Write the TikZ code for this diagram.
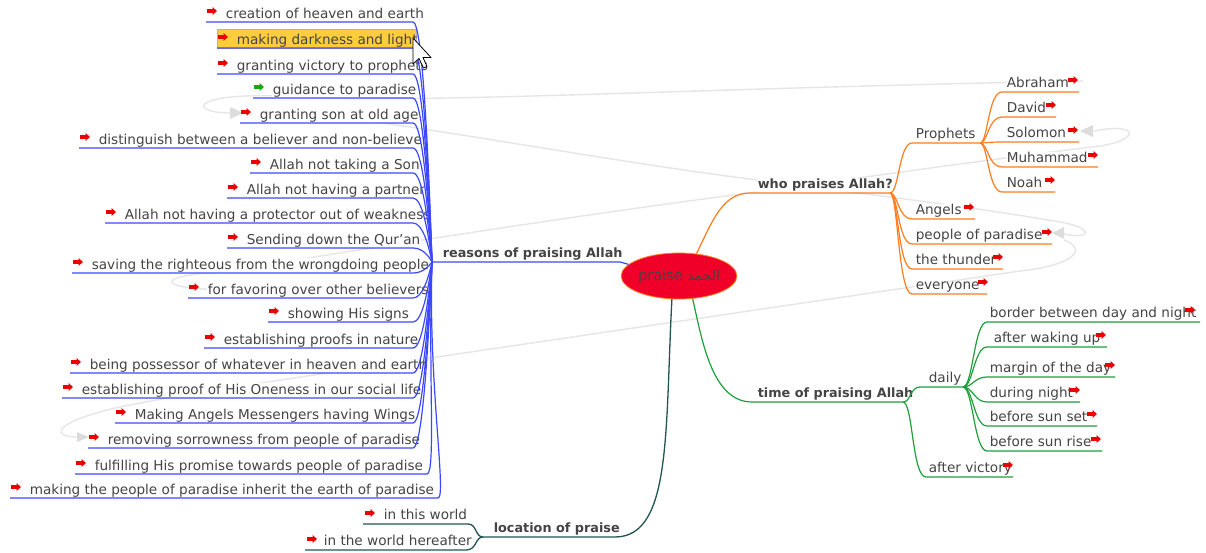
\documentclass[tikz,border=0pt]{standalone}
\usepackage{fontspec}
\setmainfont{DejaVu Sans}
\newfontfamily\arabicfont[Script=Arabic]{DejaVu Sans}
\TeXXeTstate=1
\usetikzlibrary{shapes.geometric,calc}
\definecolor{mmblue}{RGB}{60,72,255}
\definecolor{mmorange}{RGB}{255,125,30}
\definecolor{mmgreen}{RGB}{30,160,60}
\definecolor{mmteal}{RGB}{35,85,85}
\definecolor{txt}{RGB}{68,68,68}
\definecolor{icred}{RGB}{235,0,0}
\definecolor{icgreen}{RGB}{20,170,20}
\definecolor{rootred}{RGB}{240,0,40}
\definecolor{relgray}{RGB}{230,230,230}
\definecolor{arrgray}{RGB}{220,220,220}
\definecolor{hl}{RGB}{255,205,60}
\tikzset{
  icon/.pic={\fill[pic actions] (-5,-1.8) -- (0.5,-1.8) -- (0.5,-4) -- (5,0) -- (0.5,4) -- (0.5,1.8) -- (-5,1.8) -- cycle;}
}
\def\leftitems{22/206/413/icred/white/{creation of heaven and earth},
48/217/413/icred/none/{making darkness and light},
74/217/413/icred/white/{granting victory to prophets},
98/253/413/icgreen/white/{guidance to paradise},
123/240/413/icred/white/{granting son at old age},
148/79/413/icred/white/{distinguish between a believer and non-believer},
173/250/413/icred/white/{Allah not taking a Son},
198/227/413/icred/white/{Allah not having a partner},
223/105/413/icred/white/{Allah not having a protector out of weakness},
248/227/413/icred/white/{Sending down the Qur'an},
273/72/413/icred/white/{saving the righteous from the wrongdoing people},
298/188/413/icred/white/{for favoring over other believers},
322/268/413/icred/white/{showing His signs},
348/204/413/icred/white/{establishing proofs in nature},
373/70/413/icred/white/{being possessor of whatever in heaven and earth},
398/62/413/icred/white/{establishing proof of His Oneness in our social life},
423/115/413/icred/white/{Making Angels Messengers having Wings},
448/88/413/icred/white/{removing sorrowness from people of paradise},
474/75/427/icred/white/{fulfilling His promise towards people of paradise},
498/10/438/icred/white/{making the people of paradise inherit the earth of paradise}}
\begin{document}
\begin{tikzpicture}[x=1pt,y=-1pt,
  lt/.style={anchor=base west,inner sep=0.6pt,fill=white,text=txt,font=\fontsize{13.6}{15}\selectfont},
  bt/.style={lt,font=\fontsize{12.8}{15}\selectfont\bfseries},
  bl/.style={draw=mmblue,line width=1.2pt},
  ol/.style={draw=mmorange,line width=1.2pt},
  gl/.style={draw=mmgreen,line width=1.2pt},
  tl/.style={draw=mmteal,line width=1.3pt},
  rel/.style={draw=relgray,line width=1.4pt},
  relarrow/.style={fill=arrgray}]
\useasboundingbox (0,0) rectangle (1206,553);
\fill[white] (0,0) rectangle (1206,553);

% relationship lines (faint)
\draw[rel] (1083,81) .. controls (700,88) and (420,104) .. (300,97) .. controls (190,90) and (185,113) .. (231,113);
\fill[relarrow] (243,113) -- (230,107) -- (230,119) -- cycle;
\draw[rel] (300,112) .. controls (450,130) and (600,160) .. (757,180) .. controls (880,196) and (960,205) .. (1060,222) .. controls (1095,228) and (1092,240) .. (1064,234);
\fill[relarrow] (1052,233) -- (1064,227) -- (1064,239) -- cycle;
\draw[rel] (260,290) .. controls (150,292) and (150,276) .. (220,272) .. controls (420,240) and (600,212) .. (757,192) .. controls (880,175) and (1000,158) .. (1100,146) .. controls (1140,140) and (1140,122) .. (1094,131);
\fill[relarrow] (1080,131) -- (1093,125) -- (1093,137) -- cycle;
\draw[rel] (1064,240) .. controls (1090,250) and (1070,266) .. (1020,271) -- (430,358) .. controls (300,377) and (140,400) .. (100,412) .. controls (50,426) and (55,437) .. (77,437);
\fill[relarrow] (89,437) -- (77,432) -- (77,442) -- cycle;

% root
\node[ellipse,draw=mmorange,line width=0.8pt,fill=rootred,minimum width=90pt,minimum height=46pt,inner sep=0pt] (root) at (679,276)
  {\color{txt}\fontsize{14.5}{16}\selectfont praise {\arabicfont\fontsize{14}{16}\selectfont\beginR الحمد\endR}};

% ---------- left branch ----------
\coordinate (hub) at (432,262);
\fill[hl,draw=gray!60,line width=0.5pt] (217,29) rectangle (416,48);
\foreach \yu/\xl/\xr/\ic/\fl/\txt [count=\i] in \leftitems {
  \node[lt,fill=\fl] (l\i) at ({\xl+19},{\yu-3.8}) {\txt};
}
\foreach \yu/\xl/\xr/\ic/\fl/\txt [count=\i] in \leftitems {
  \coordinate (ls\i) at (\xl,\yu);
  \coordinate (le\i) at (\xr,\yu);
  \draw[bl] (ls\i) -- (le\i) .. controls ({\xr+9},\yu) and (428,{(\yu+262)/2}) .. (hub);
  \pic[fill=\ic] at ({\xl+6},{\yu-11}) {icon};
}
\node[bt] (reasons) at (442,257) {reasons of praising Allah};
\coordinate (rend) at (620,262);
\draw[bl] (hub) -- (rend) -- (root.167);

% ---------- orange branch ----------
\coordinate (whs) at (750,193);
\coordinate (whe) at (890,193);
\node[bt] (who) at (757,188.5) {who praises Allah?};
\draw[ol] (root.52) .. controls (712,222) and (722,193) .. (whs) -- (whe);
\coordinate (prs) at (912,143);
\coordinate (pre) at (980,143);
\node[lt] (prophets) at (915,138.8) {Prophets};
\draw[ol] (whe) .. controls (899,193) and (899,143) .. (prs) -- (pre);
\foreach \yu/\xe/\ix/\txt [count=\i] in {92/1079/1068/Abraham,117/1056/1046/David,142/1079/1068/Solomon,167/1098/1088/Muhammad,192/1055/1045/Noah}{
  \node[lt] (p\i) at (1006,{\yu-4.2}) {\txt};
  \coordinate (pe\i) at (\xe,\yu);
  \draw[ol] (pre) .. controls (988,143) and (988,\yu) .. (1002,\yu) -- (pe\i);
  \pic[fill=icred] at ({\ix+5},{\yu-12}) {icon};
}
\foreach \yu/\xe/\ix/\txt [count=\i] in {219/975/964/Angels,244/1052/1042/people of paradise,269/1003/993/the thunder,294/987/978/everyone}{
  \node[lt] (w\i) at (915,{\yu-4.2}) {\txt};
  \coordinate (we\i) at (\xe,\yu);
  \draw[ol] (whe) .. controls (898,193) and (898,\yu) .. (912,\yu) -- (we\i);
  \pic[fill=icred] at ({\ix+5},{\yu-12}) {icon};
}

% ---------- green branch ----------
\coordinate (ts) at (752,402);
\coordinate (th) at (903,402);
\node[bt] (time) at (757,397.5) {time of praising Allah};
\draw[gl] (root.-59) .. controls (702,340) and (712,402) .. (ts) -- (th);
\coordinate (dh) at (963,387);
\node[lt] (daily) at (928,382.8) {daily};
\draw[gl] (th) .. controls (911,402) and (910,387) .. (920,387) -- (dh);
\node[lt] (victory) at (928,472.8) {after victory};
\coordinate (ve) at (1013,477);
\draw[gl] (th) .. controls (913,402) and (912,477) .. (926,477) -- (ve);
\pic[fill=icred] at (1008,465) {icon};
\foreach \yu/\xe/\ix/\xt/\txt [count=\i] in {322/1200/1185/989/border between day and night,347/1107/1096/993/after waking up,377/1115/1105/989/margin of the day,402/1080/1070/989/during night,426/1097/1087/989/before sun set,451/1102/1091/989/before sun rise}{
  \node[lt] (d\i) at (\xt,{\yu-4.2}) {\txt};
  \coordinate (de\i) at (\xe,\yu);
  \draw[gl] (dh) .. controls (973,387) and (974,\yu) .. (987,\yu) -- (de\i);
  \pic[fill=icred] at ({\ix+5},{\yu-12}) {icon};
}

% ---------- teal branch ----------
\coordinate (lh) at (483,537);
\coordinate (lr) at (615,537);
\node[bt] (loc) at (493,532.5) {location of praise};
\draw[tl] (root.-107) .. controls (665,430) and (672,537) .. (lr) -- (lh);
\node[lt] (world) at (383,519.8) {in this world};
\node[lt] (hereafter) at (323,545.8) {in the world hereafter};
\coordinate (wle) at (363,524);
\coordinate (hre) at (305,550);
\draw[tl] (lh) .. controls (475,537) and (477,524) .. (468,524) -- (wle);
\draw[tl] (lh) .. controls (475,537) and (477,550) .. (466,550) -- (hre);
\pic[fill=icred] at (370,513) {icon};
\pic[fill=icred] at (312,539) {icon};

% mouse cursor
\draw[fill=white,draw=black,line width=0.8pt,line join=round] (413,38) -- ++(0,26) -- ++(6,-5.5) -- ++(4.5,9.5) -- ++(3.5,-1.5) -- ++(-4,-9) -- ++(8,0) -- cycle;
\end{tikzpicture}
\end{document}
